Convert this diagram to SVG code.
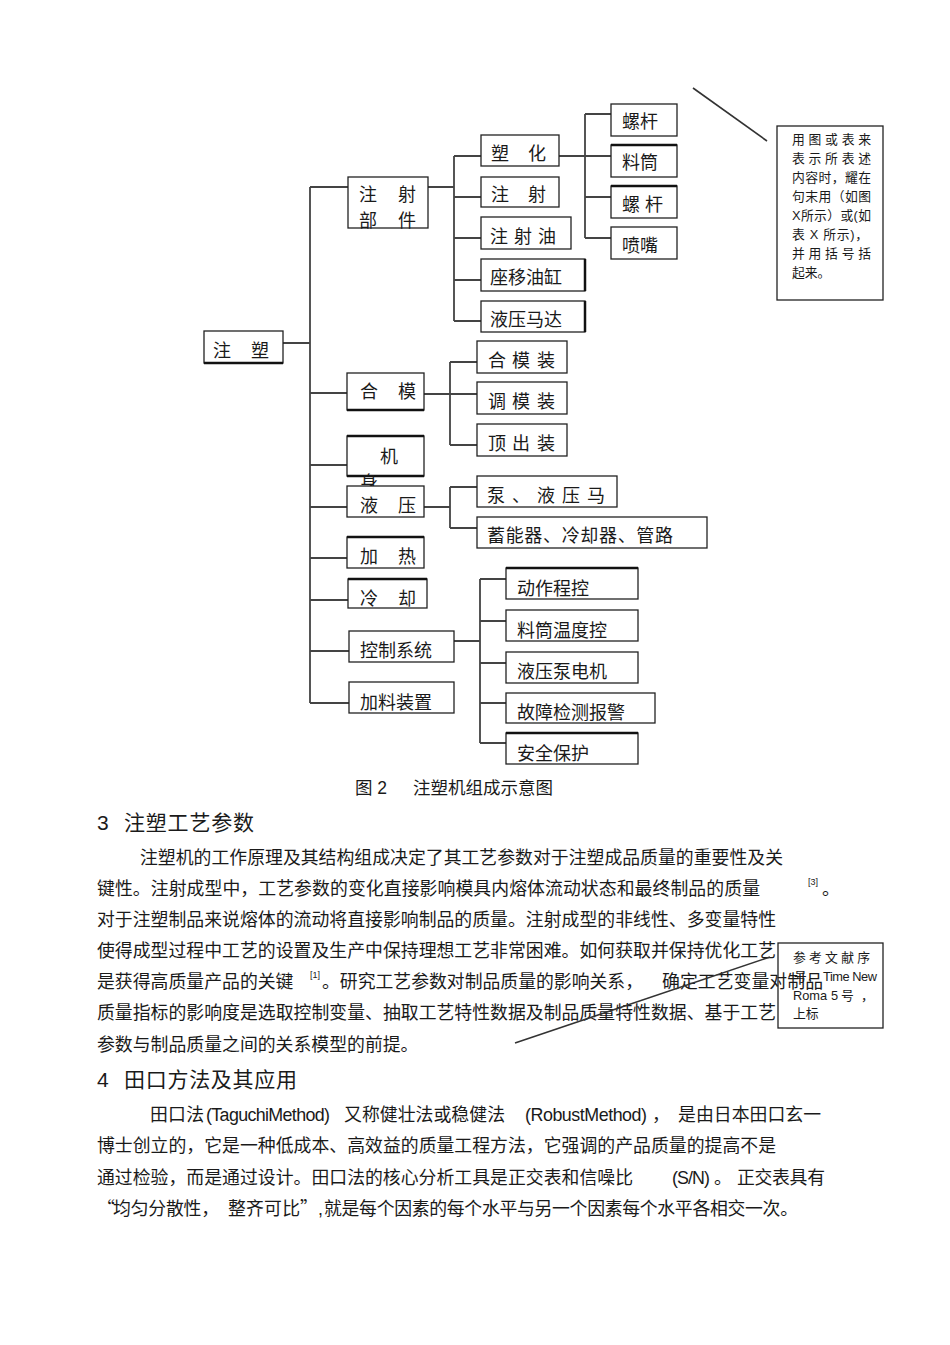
<svg xmlns="http://www.w3.org/2000/svg" width="950" height="1345" viewBox="0 0 950 1345">
<style>
text{font-family:"Liberation Sans","Noto Sans CJK SC",sans-serif;fill:#1a1a1a}
.bx{fill:#fff;stroke:#222;stroke-width:1.3}
.t{font-size:18px}
.c{fill:none;stroke:#444;stroke-width:1.8}
.th{stroke:#111;stroke-width:2.5}
.body{font-size:17.86px}
.cjk{font-family:"Noto Sans CJK SC",sans-serif}
.h{font-size:21px}
.note{font-size:12.8px}
.sup{font-size:9px}
.cap{font-size:17.5px}
</style>
<rect width="950" height="1345" fill="#fff"/>
<g id="connectors">
<path class="c" d="M310 187V703M283 343H310M310 187H348M310 393H347M310 465H347M310 507H347M310 558H347M310 600H348M310 651H349M310 703H349"/>
<path class="c" d="M428 187H454M454 156V321M454 156H481M454 197H481M454 238H481M454 280H481M454 321H481"/>
<path class="c" d="M559 156H585M585 114V238M585 114H611M585 156H611M585 197H611M585 238H611"/>
<path class="c" d="M424 394H450M450 362V445M450 362H477M450 394H477M450 445H477"/>
<path class="c" d="M424 507H450M450 487V528M450 487H477M450 528H477"/>
<path class="c" d="M454 641H480M480 579V743M480 579H506M480 621H506M480 663H506M480 703H506M480 743H506"/>
</g>
<g id="n-zhusu"><rect class="bx" x="204" y="331" width="79" height="32"/><line class="th" x1="204" y1="363" x2="283" y2="363"/><text class="t" x="213 251" y="357">注塑</text></g>
<g id="n-zhushebujian"><rect class="bx" x="348" y="177" width="80" height="51"/><text class="t" x="359 398" y="201">注射</text><text class="t" x="359 398" y="227">部件</text></g>
<g id="n-suhua"><rect class="bx" x="481" y="135" width="78" height="31"/><text class="t" x="491 528" y="160">塑化</text></g>
<g id="n-zhushe"><rect class="bx" x="481" y="177" width="78" height="30"/><text class="t" x="491 528" y="201">注射</text></g>
<g id="n-zhusheyou"><rect class="bx" x="481" y="217" width="90" height="32"/><text class="t" x="490 514 538" y="243">注射油</text></g>
<g id="n-zuoyi"><rect class="bx" x="481" y="259" width="104" height="32"/><line class="th" x1="585" y1="259" x2="585" y2="291"/><text class="t" x="490" y="284">座移油缸</text></g>
<g id="n-yeyamada"><rect class="bx" x="481" y="301" width="104" height="31"/><line class="th" x1="585" y1="301" x2="585" y2="332"/><text class="t" x="490" y="326">液压马达</text></g>
<g id="n-luogan1"><rect class="bx" x="611" y="104" width="66" height="32"/><text class="t" x="622" y="128">螺杆</text></g>
<g id="n-liaotong"><rect class="bx" x="611" y="145" width="66" height="32"/><line class="th" x1="611" y1="145" x2="677" y2="145"/><text class="t" x="622" y="169">料筒</text></g>
<g id="n-luogan2"><rect class="bx" x="611" y="186" width="66" height="32"/><line class="th" x1="611" y1="186" x2="677" y2="186"/><text class="t" x="622 645" y="211">螺杆</text></g>
<g id="n-penzui"><rect class="bx" x="611" y="227" width="66" height="32"/><text class="t" x="622" y="252">喷嘴</text></g>
<g id="n-hemo"><rect class="bx" x="347" y="373" width="77" height="37"/><line class="th" x1="347" y1="410" x2="424" y2="410"/><text class="t" x="360 398" y="398">合模</text></g>
<g id="n-hemozhuang"><rect class="bx" x="477" y="341" width="90" height="32"/><text class="t" x="488 512 537" y="367">合模装</text></g>
<g id="n-tiaomozhuang"><rect class="bx" x="477" y="382" width="90" height="32"/><text class="t" x="488 512 537" y="408">调模装</text></g>
<g id="n-dingchuzhuang"><rect class="bx" x="477" y="424" width="90" height="32"/><text class="t" x="488 512 537" y="450">顶出装</text></g>
<g id="n-jishen"><rect class="bx" x="347" y="436" width="77" height="40"/><line class="th" x1="347" y1="436" x2="424" y2="436"/><line class="th" x1="347" y1="476" x2="424" y2="476"/><text class="t" x="380" y="463">机</text><text class="t" x="360" y="489">身</text></g>
<g id="n-yeya"><rect class="bx" x="347" y="486" width="77" height="31"/><text class="t" x="360 398" y="512">液压</text></g>
<g id="n-beng"><rect class="bx" x="477" y="476" width="140" height="31"/><text class="t" x="487 512 537 562 587" y="502">泵、液压马</text></g>
<g id="n-xuneng"><rect class="bx" x="477" y="517" width="230" height="31"/><text class="t" x="487" y="542" textLength="186" lengthAdjust="spacing">蓄能器、冷却器、管路</text></g>
<g id="n-jiare"><rect class="bx" x="347" y="537" width="77" height="31"/><line class="th" x1="347" y1="537" x2="424" y2="537"/><text class="t" x="360 398" y="563">加热</text></g>
<g id="n-lengque"><rect class="bx" x="348" y="579" width="79" height="29"/><line class="th" x1="348" y1="579" x2="427" y2="579"/><text class="t" x="360 398" y="605">冷却</text></g>
<g id="n-kongzhi"><rect class="bx" x="349" y="631" width="105" height="31"/><text class="t" x="360" y="657">控制系统</text></g>
<g id="n-jialiao"><rect class="bx" x="349" y="682" width="105" height="31"/><text class="t" x="360" y="709">加料装置</text></g>
<g id="n-dongzuo"><rect class="bx" x="506" y="568" width="132" height="31"/><line class="th" x1="506" y1="568" x2="638" y2="568"/><text class="t" x="517" y="595">动作程控</text></g>
<g id="n-liaotongwendu"><rect class="bx" x="506" y="610" width="132" height="31"/><text class="t" x="517" y="637">料筒温度控</text></g>
<g id="n-yeyabeng"><rect class="bx" x="506" y="652" width="132" height="31"/><text class="t" x="517" y="678">液压泵电机</text></g>
<g id="n-guzhang"><rect class="bx" x="506" y="693" width="149" height="30"/><text class="t" x="517" y="719">故障检测报警</text></g>
<g id="n-anquan"><rect class="bx" x="506" y="733" width="132" height="31"/><line class="th" x1="506" y1="733" x2="638" y2="733"/><text class="t" x="517" y="760">安全保护</text></g>
<text class="cap" x="355" y="794">图 2</text>
<text class="cap" x="413" y="794">注塑机组成示意图</text>
<g id="callout1">
<line x1="693" y1="88" x2="767" y2="141" stroke="#333" stroke-width="1.6"/>
<rect x="777" y="126" width="106" height="174" fill="#fff" stroke="#222" stroke-width="1.3"/>
<text class="note" x="792" y="144" textLength="79" lengthAdjust="spacing">用图或表来</text>
<text class="note" x="792" y="163" textLength="79" lengthAdjust="spacing">表示所表述</text>
<text class="note" x="792" y="182" textLength="79" lengthAdjust="spacing">内容时，耀在</text>
<text class="note" x="792" y="201" textLength="79" lengthAdjust="spacing">句末用（如图</text>
<text class="note" x="792" y="220" textLength="79" lengthAdjust="spacing">X所示）或(如</text>
<text class="note" x="792" y="239" textLength="76" lengthAdjust="spacing">表 X 所示)，</text>
<text class="note" x="792" y="258" textLength="79" lengthAdjust="spacing">并用括号括</text>
<text class="note" x="792" y="277">起来。</text>
</g>
<g id="section3">
<text class="h" x="97" y="830">3</text>
<text class="h" x="124" y="830" textLength="130" lengthAdjust="spacing">注塑工艺参数</text>
<text class="body" x="140" y="864" textLength="643" lengthAdjust="spacing">注塑机的工作原理及其结构组成决定了其工艺参数对于注塑成品质量的重要性及关</text>
<text class="body" x="97" y="895" textLength="663" lengthAdjust="spacing">键性。注射成型中，工艺参数的变化直接影响模具内熔体流动状态和最终制品的质量</text>
<text class="sup" x="808" y="885">[3]</text>
<text class="body" x="822" y="895">。</text>
<text class="body" x="97" y="926" textLength="679" lengthAdjust="spacing">对于注塑制品来说熔体的流动将直接影响制品的质量。注射成型的非线性、多变量特性</text>
<text class="body" x="97" y="957" textLength="679" lengthAdjust="spacing">使得成型过程中工艺的设置及生产中保持理想工艺非常困难。如何获取并保持优化工艺</text>
<text class="body" x="97" y="1019" textLength="679" lengthAdjust="spacing">质量指标的影响度是选取控制变量、抽取工艺特性数据及制品质量特性数据、基于工艺</text>
<text class="body" x="97" y="1051">参数与制品质量之间的关系模型的前提。</text>
</g>
<g id="callout2">
<rect x="778" y="943" width="105" height="85" fill="#fff" stroke="#222" stroke-width="1.3"/>
<text class="note" x="793" y="962" textLength="77" lengthAdjust="spacing">参考文献序</text>
<text class="note" x="794" y="981">号，</text>
<text class="note" x="823" y="981" textLength="54" lengthAdjust="spacing">Time New</text>
<text class="note" x="793" y="1000">Roma</text>
<text class="note" x="831" y="1000">5</text>
<text class="note" x="841" y="1000">号</text>
<text class="note" x="861" y="1000">，</text>
<text class="note" x="793" y="1018">上标</text>
</g>
<g id="section3-line5">
<text class="body" x="97" y="988">是获得高质量产品的关键</text>
<text class="sup" x="310" y="978">[1]</text>
<text class="body" x="322" y="988" textLength="321" lengthAdjust="spacing">。研究工艺参数对制品质量的影响关系，</text>
<text class="body" x="662" y="988" textLength="161" lengthAdjust="spacing">确定工艺变量对制品</text>
<line x1="770" y1="957" x2="515" y2="1043" stroke="#333" stroke-width="1.6"/>
</g>
<g id="section4">
<text class="h" x="97" y="1087">4</text>
<text class="h" x="124" y="1087" textLength="173" lengthAdjust="spacing">田口方法及其应用</text>
<text class="body" x="150" y="1121" textLength="54" lengthAdjust="spacing">田口法</text>
<text class="body" x="206" y="1121" textLength="124" lengthAdjust="spacing">(TaguchiMethod)</text>
<text class="body" x="344" y="1121" textLength="161" lengthAdjust="spacing">又称健壮法或稳健法</text>
<text class="body" x="525" y="1121" textLength="122" lengthAdjust="spacing">(RobustMethod)</text>
<text class="body" x="652" y="1121">，</text>
<text class="body" x="678" y="1121" textLength="143" lengthAdjust="spacing">是由日本田口玄一</text>
<text class="body" x="97" y="1152" textLength="679" lengthAdjust="spacing">博士创立的，它是一种低成本、高效益的质量工程方法，它强调的产品质量的提高不是</text>
<text class="body" x="97" y="1184" textLength="536" lengthAdjust="spacing">通过检验，而是通过设计。田口法的核心分析工具是正交表和信噪比</text>
<text class="body" x="672" y="1184" textLength="38" lengthAdjust="spacing">(S/N)</text>
<text class="body" x="714" y="1184">。</text>
<text class="body" x="737" y="1184" textLength="88" lengthAdjust="spacing">正交表具有</text>
<text class="body cjk" x="97" y="1215">“</text>
<text class="body" x="113" y="1215" textLength="106" lengthAdjust="spacing">均匀分散性，</text>
<text class="body" x="228" y="1215" textLength="72" lengthAdjust="spacing">整齐可比</text>
<text class="body cjk" x="300" y="1215">”</text>
<text class="body" x="318" y="1215">,</text>
<text class="body" x="324" y="1215" textLength="474" lengthAdjust="spacing">就是每个因素的每个水平与另一个因素每个水平各相交一次。</text>
</g>
</svg>
